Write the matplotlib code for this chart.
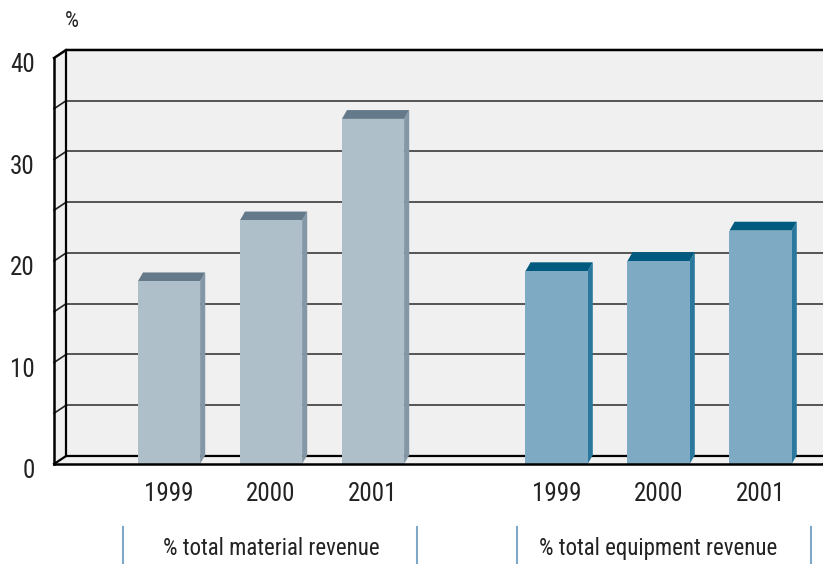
import numpy as np
import matplotlib
matplotlib.use('Agg')
import matplotlib.pyplot as plt
from matplotlib.patches import Polygon, Rectangle

plt.rcParams['font.family'] = ['Roboto Condensed', 'Liberation Sans Narrow', 'Liberation Sans', 'DejaVu Sans']

# data
years = ['1999', '2000', '2001']
groups = ['% total material revenue', '% total equipment revenue']
material = [18, 24, 34]
equipment = [19, 20, 23]
yticks = [0, 10, 20, 30, 40]

#%% layout (data units: 1 x unit = one bar step, y unit = 1 %)
pos_mat = np.array([0.0, 1.0, 2.0])
pos_eq = np.array([3.8, 4.8, 5.8])
bw = 0.61            # bar width
ddx, ddy = 0.118, 0.79   # wall depth
bdx, bdy = 0.05, 0.87    # bar depth
x0 = -1.127              # front left edge of plot
xmax = 6.41

fig = plt.figure(figsize=(8.23, 5.64), dpi=100)
ax = fig.add_axes([0, 0, 1, 1])
ax.set_xlim(-1.657, 6.412)
ax.set_ylim(-9.852, 45.714)
ax.axis('off')

wall = '#f0f0f0'
# back wall
ax.add_patch(Rectangle((x0 + ddx, ddy), xmax - x0, 40, fc=wall, ec='none', zorder=1))
# side wall
ax.add_patch(Polygon([(x0, 0), (x0 + ddx, ddy), (x0 + ddx, 40 + ddy), (x0, 40)],
                     closed=True, fc=wall, ec='none', zorder=1))
# floor
ax.add_patch(Polygon([(x0, 0), (xmax, 0), (xmax + ddx, ddy), (x0 + ddx, ddy)],
                     closed=True, fc=wall, ec='none', zorder=1))

# gridlines on back wall + small ticks on side wall
for v in range(5, 40, 5):
    ax.plot([x0 + ddx, xmax + 0.1], [v + ddy, v + ddy], color='#484848', lw=1.3, zorder=2)
    ax.plot([x0, x0 + ddx], [v, v + ddy], color='#222222', lw=1.2, zorder=2)
# top edge
ax.plot([x0, x0 + ddx, xmax + 0.1], [40, 40 + ddy, 40 + ddy], color='black', lw=1.8, zorder=2)
# back wall left edge, back floor line
ax.plot([x0 + ddx, x0 + ddx], [ddy, 40 + ddy], color='black', lw=1.6, zorder=2)
ax.plot([x0, x0 + ddx, xmax + 0.1], [0, ddy, ddy], color='black', lw=1.6, zorder=2)


def draw_bars(xs, vals, front, top, side):
    for x, v in zip(xs, vals):
        l, r = x - bw / 2, x + bw / 2
        ax.add_patch(Polygon([(r, 0), (r + bdx, bdy), (r + bdx, v + bdy), (r, v)],
                             closed=True, fc=side, ec='none', zorder=4))
        ax.add_patch(Polygon([(l, v), (r, v), (r + bdx, v + bdy), (l + bdx, v + bdy)],
                             closed=True, fc=top, ec='none', zorder=4))
        ax.add_patch(Rectangle((l, 0), bw, v, fc=front, ec='none', zorder=5))


draw_bars(pos_mat, material, '#aebfca', '#64798a', '#8497a6')
draw_bars(pos_eq, equipment, '#7eaac4', '#005a80', '#2a789e')

# front axis lines
ax.plot([x0, x0], [0, 40], color='black', lw=1.8, zorder=6)
ax.plot([x0, xmax], [0, 0], color='black', lw=1.8, zorder=6)
ax.plot([xmax, xmax + ddx * 0.6], [0, ddy * 0.6], color='black', lw=1.2, zorder=6)

# y tick labels
for v in yticks:
    ax.text(x0 - 0.19, v - 0.7, str(v), ha='right', va='center', fontsize=18, color='#222222')
ax.text(-0.951, 43.6, '%', ha='center', va='center', fontsize=16, color='#222222')

# year labels
for xs in (pos_mat, pos_eq):
    for x, y in zip(xs, years):
        ax.text(x, -2.96, y, ha='center', va='center', fontsize=18, color='#222222')

# group labels with separators
sep = [(-0.45, 2.43), (3.41, 6.29)]
for (a, b), g, xs in zip(sep, groups, (pos_mat, pos_eq)):
    ax.text(xs[1], -8.35, g, ha='center', va='center', fontsize=16.5, color='#222222')
    for s in (a, b):
        ax.plot([s, s], [-6.2, -10], color='#7fa8c8', lw=1.5, clip_on=False)

fig.savefig('out.png', dpi=100)
